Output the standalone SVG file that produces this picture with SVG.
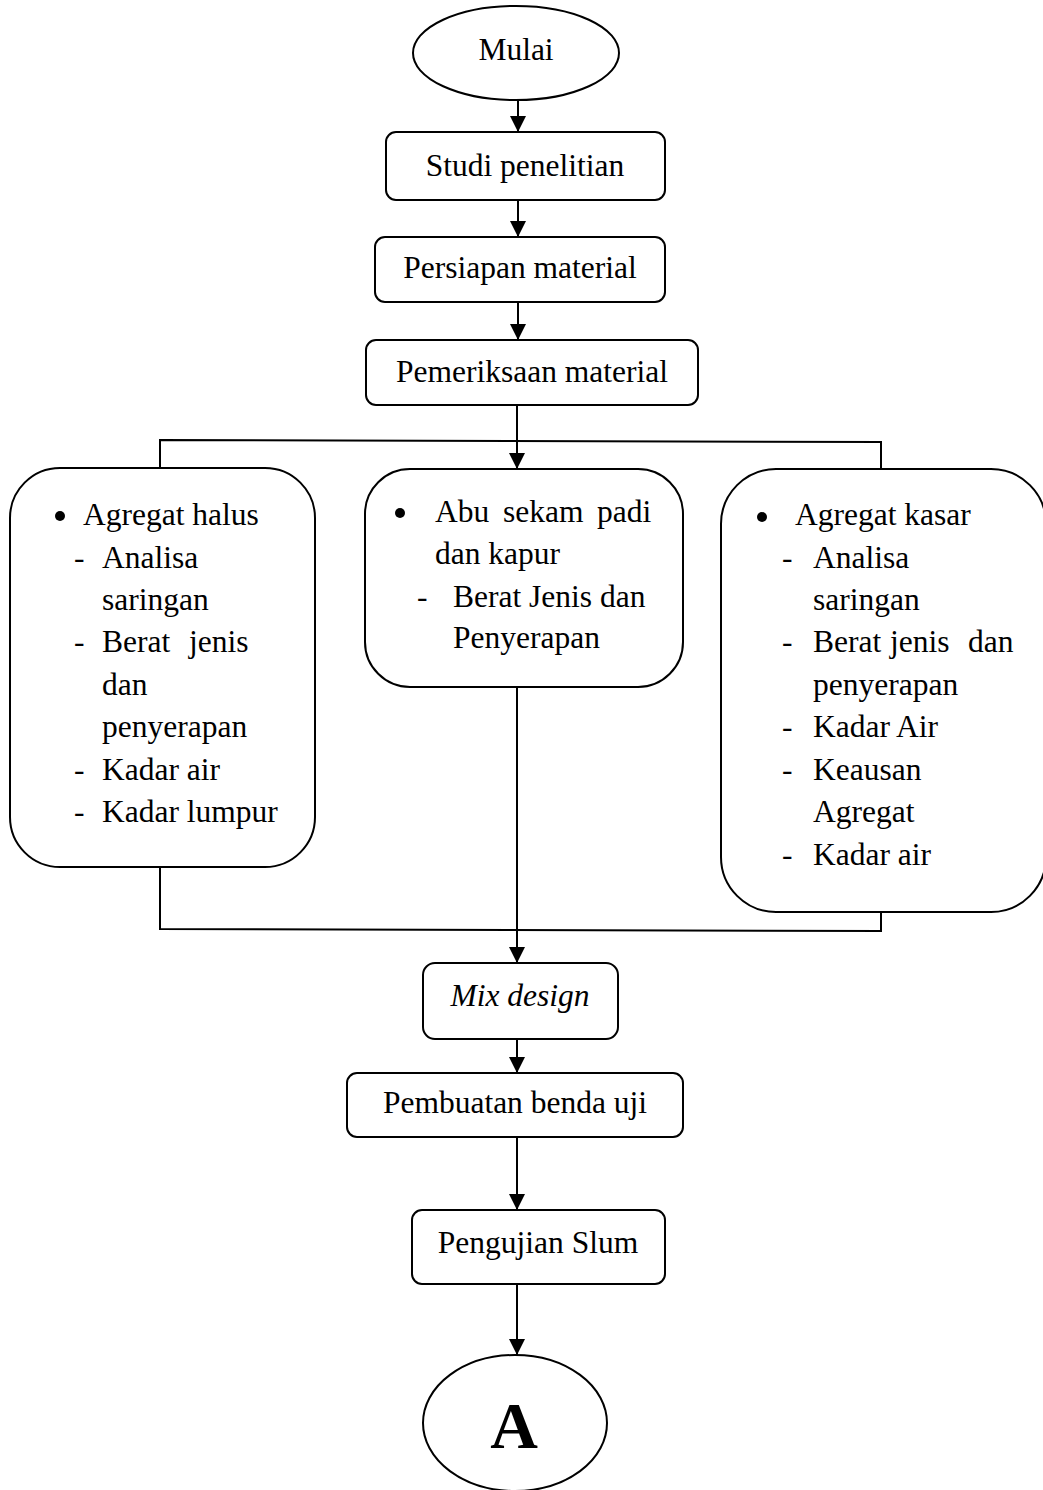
<svg xmlns="http://www.w3.org/2000/svg" width="1043" height="1490" viewBox="0 0 1043 1490">
<style>
.n{fill:#fff;stroke:#000;stroke-width:2}
.t{font-family:"Liberation Serif","Times New Roman",serif;font-size:31.5px;fill:#000}
.c{text-anchor:middle}
.e{fill:none;stroke:#000;stroke-width:2}
.big{font-size:66px;font-weight:bold}
.it{font-style:italic}
</style>
<defs>
<marker id="ah" viewBox="0 0 16 16" refX="16" refY="8" markerWidth="16" markerHeight="16" markerUnits="userSpaceOnUse" orient="auto">
<path d="M0,0 L16,8 L0,16 Z" fill="#000"/>
</marker>
</defs>
<rect width="1043" height="1490" fill="#fff"/>
<g id="connectors">
<line class="e" x1="518" y1="100" x2="518" y2="132" marker-end="url(#ah)"/>
<line class="e" x1="518" y1="200" x2="518" y2="237" marker-end="url(#ah)"/>
<line class="e" x1="518" y1="302" x2="518" y2="340" marker-end="url(#ah)"/>
<line class="e" x1="517" y1="405" x2="517" y2="469" marker-end="url(#ah)"/>
<polyline class="e" points="160,468 160,440 881,442 881,469"/>
<polyline class="e" points="160,867 160,929 881,931 881,912"/>
<line class="e" x1="517" y1="687" x2="517" y2="963" marker-end="url(#ah)"/>
<line class="e" x1="517" y1="1039" x2="517" y2="1073" marker-end="url(#ah)"/>
<line class="e" x1="517" y1="1137" x2="517" y2="1210" marker-end="url(#ah)"/>
<line class="e" x1="517" y1="1284" x2="517" y2="1355" marker-end="url(#ah)"/>
</g>
<g id="mulai">
<ellipse class="n" cx="516" cy="53" rx="103" ry="47"/>
<text class="t c" x="516" y="60">Mulai</text>
</g>
<g id="studi">
<rect class="n" x="386" y="132" width="279" height="68" rx="10"/>
<text class="t c" x="525" y="176">Studi penelitian</text>
</g>
<g id="persiapan">
<rect class="n" x="375" y="237" width="290" height="65" rx="10"/>
<text class="t c" x="520" y="278">Persiapan material</text>
</g>
<g id="pemeriksaan">
<rect class="n" x="366" y="340" width="332" height="65" rx="10"/>
<text class="t c" x="532" y="382">Pemeriksaan material</text>
</g>
<g id="agregat-halus">
<rect class="n" x="10" y="468" width="305" height="399" rx="50"/>
<circle cx="60" cy="516" r="5"/>
<text class="t" x="83" y="525">Agregat halus</text>
<text class="t" x="74" y="568">-</text>
<text class="t" x="102" y="568">Analisa</text>
<text class="t" x="102" y="610">saringan</text>
<text class="t" x="74" y="652">-</text>
<text class="t" y="652"><tspan x="102">Berat</tspan><tspan x="189">jenis</tspan></text>
<text class="t" x="102" y="695">dan</text>
<text class="t" x="102" y="737">penyerapan</text>
<text class="t" x="74" y="780">-</text>
<text class="t" x="102" y="780">Kadar air</text>
<text class="t" x="74" y="822">-</text>
<text class="t" x="102" y="822">Kadar lumpur</text>
</g>
<g id="abu-sekam">
<rect class="n" x="365" y="469" width="318" height="218" rx="45"/>
<circle cx="400" cy="513" r="5"/>
<text class="t" y="522"><tspan x="435">Abu</tspan><tspan x="503">sekam</tspan><tspan x="597">padi</tspan></text>
<text class="t" x="435" y="564">dan kapur</text>
<text class="t" x="417" y="607">-</text>
<text class="t" x="453" y="607">Berat Jenis dan</text>
<text class="t" x="453" y="648">Penyerapan</text>
</g>
<g id="agregat-kasar">
<rect class="n" x="721" y="469" width="325" height="443" rx="55"/>
<circle cx="762" cy="517" r="5"/>
<text class="t" x="795" y="525">Agregat kasar</text>
<text class="t" x="782" y="568">-</text>
<text class="t" x="813" y="568">Analisa</text>
<text class="t" x="813" y="610">saringan</text>
<text class="t" x="782" y="652">-</text>
<text class="t" y="652"><tspan x="813">Berat</tspan><tspan x="890">jenis</tspan><tspan x="968">dan</tspan></text>
<text class="t" x="813" y="695">penyerapan</text>
<text class="t" x="782" y="737">-</text>
<text class="t" x="813" y="737">Kadar Air</text>
<text class="t" x="782" y="780">-</text>
<text class="t" x="813" y="780">Keausan</text>
<text class="t" x="813" y="822">Agregat</text>
<text class="t" x="782" y="865">-</text>
<text class="t" x="813" y="865">Kadar air</text>
</g>
<g id="mix-design">
<rect class="n" x="423" y="963" width="195" height="76" rx="12"/>
<text class="t c it" x="520" y="1006">Mix design</text>
</g>
<g id="pembuatan">
<rect class="n" x="347" y="1073" width="336" height="64" rx="10"/>
<text class="t c" x="515" y="1113">Pembuatan benda uji</text>
</g>
<g id="pengujian">
<rect class="n" x="412" y="1210" width="253" height="74" rx="10"/>
<text class="t c" x="538" y="1253">Pengujian Slum</text>
</g>
<g id="a">
<ellipse class="n" cx="515" cy="1423" rx="92" ry="68"/>
<text class="t c big" x="514" y="1448">A</text>
</g>
</svg>
